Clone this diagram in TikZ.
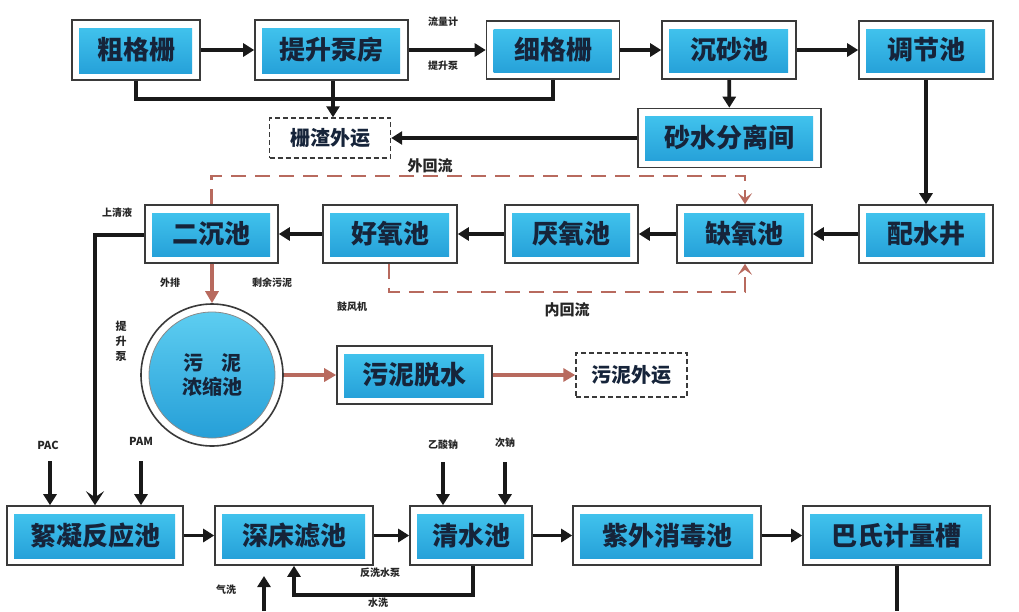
\documentclass[tikz,border=0pt]{standalone}
\usepackage{fontspec}
\setmainfont{Noto Sans CJK SC}
\usetikzlibrary{arrows.meta}
\definecolor{boxtop}{HTML}{45C8F0}
\definecolor{boxbot}{HTML}{229CD6}
\definecolor{txt}{HTML}{16243A}
\definecolor{redline}{HTML}{B86A5E}
\definecolor{frame}{HTML}{3A3A3A}
\tikzset{
  proc/.style={draw=frame, line width=1.6pt, fill=white, minimum height=58pt, inner sep=0pt,
    font=\fontsize{26}{28}\selectfont\bfseries, text=txt,
    path picture={\shade[top color=boxtop,bottom color=boxbot]
      ([shift={(7pt,-8pt)}]path picture bounding box.north west) rectangle
      ([shift={(-8pt,7pt)}]path picture bounding box.south east);}},
  outbox/.style={draw=frame, line width=1.4pt, dash pattern=on 5pt off 3pt, fill=white, inner sep=0pt,
    font=\fontsize{20}{22}\selectfont\bfseries, text=txt},
  tank/.style={circle, draw=frame, line width=1.6pt, fill=white, minimum size=142pt, inner sep=0pt,
    align=center, font=\fontsize{20}{24}\selectfont\bfseries, text=txt,
    path picture={\shade[top color=boxtop!85!white, bottom color=boxbot, draw=frame!60, line width=0.8pt]
      (path picture bounding box.center) circle (63pt);}},
  lbl/.style={font=\fontsize{10}{11}\selectfont\bfseries, text=black!85, inner sep=0pt},
  biglbl/.style={font=\fontsize{15}{16}\selectfont\bfseries, text=black!85, inner sep=0pt},
  flow/.style={line width=3.8pt, draw=black!90, -{Triangle[length=11pt,width=13pt]}},
  plain/.style={line width=3.8pt, draw=black!90},
  rflow/.style={line width=3.4pt, draw=redline, -{Triangle[length=12pt,width=13pt]}},
  rdash/.style={line width=2.8pt, draw=redline, dash pattern=on 15pt off 9pt,
    -{Stealth[length=11pt,width=14pt,inset=5pt]}},
  bigv/.style={line width=3.8pt, draw=black!90, -{Stealth[length=14pt,width=18pt,inset=6pt]}}
}
\begin{document}
\begin{tikzpicture}[x=1pt,y=-1pt]
\useasboundingbox[fill=white] (0,0) rectangle (1019,611);
% top row
\node[proc, minimum width=128pt, minimum height=60pt] (cg) at (136,50) {粗格栅};
\node[proc, minimum width=153pt, minimum height=60pt] (ts) at (331.5,50) {提升泵房};
\node[proc, minimum width=133pt] (xg) at (553,50) {细格栅};
\node[proc, minimum width=134pt] (cs) at (729,50) {沉砂池};
\node[proc, minimum width=134pt] (tj) at (926,50) {调节池};
\node[proc, minimum width=183pt, minimum height=59pt] (ss) at (729.5,138) {砂水分离间};
\node[outbox, minimum width=121pt, minimum height=40pt] (zz) at (330,138) {栅渣外运};
% middle row
\node[proc, minimum width=133pt] (ec) at (211.5,234) {二沉池};
\node[proc, minimum width=134pt] (hy) at (390,234) {好氧池};
\node[proc, minimum width=133pt] (ya) at (571.5,234) {厌氧池};
\node[proc, minimum width=135pt] (qy) at (744.5,234) {缺氧池};
\node[proc, minimum width=134pt] (ps) at (926,234) {配水井};
% sludge line
\node[tank] (nw) at (212,375) {污\hspace{0.9em}泥\\浓缩池};
\node[proc, minimum width=155pt] (wt) at (414.5,375) {污泥脱水};
\node[outbox, minimum width=111pt, minimum height=44pt] (wy) at (631.5,375) {污泥外运};
% bottom row
\node[proc, minimum width=176pt, minimum height=59pt] (xn) at (95,535.5) {絮凝反应池};
\node[proc, minimum width=158pt, minimum height=59pt] (sc) at (294,535.5) {深床滤池};
\node[proc, minimum width=122pt, minimum height=59pt] (qs) at (471,535.5) {清水池};
\node[proc, minimum width=188pt, minimum height=59pt] (zw) at (667,535.5) {紫外消毒池};
\node[proc, minimum width=187pt, minimum height=59pt] (bs) at (896.5,535.5) {巴氏计量槽};

% labels
\node[lbl] (l1) at (443,22) {流量计};
\node[lbl] (l2) at (443,66) {提升泵};
\node[biglbl] (l3) at (430,166) {外回流};
\node[biglbl] (l4) at (567,310) {内回流};
\node[lbl] (l5) at (117,213) {上清液};
\node[lbl] (l6) at (170,283) {外排};
\node[lbl] (l7) at (272,283) {剩余污泥};
\node[lbl] (l8) at (352,307) {鼓风机};
\node[lbl, align=center, font=\fontsize{11}{15}\selectfont\bfseries] (l9) at (121,341) {提\\升\\泵};
\node[lbl, font=\fontsize{11}{12}\selectfont\bfseries] (l10) at (48,445) {PAC};
\node[lbl, font=\fontsize{11}{12}\selectfont\bfseries] (l11) at (141,441) {PAM};
\node[lbl] (l12) at (443,445) {乙酸钠};
\node[lbl] (l13) at (505,443) {次钠};
\node[lbl] (l14) at (380,573) {反洗水泵};
\node[lbl] (l15) at (378,603) {水洗};
\node[lbl] (l16) at (226,590) {气洗};

% coordinates
\coordinate (j1) at (333,99);
\coordinate (pac) at (50,461);
\coordinate (pam) at (141,461);
\coordinate (yas) at (443,462);
\coordinate (cin) at (505,462);
\coordinate (up1) at (211.5,176);
\coordinate (up2) at (745,176);
\coordinate (dn1) at (389,292);
\coordinate (dn2) at (745,292);
\coordinate (sq) at (95,235);
\coordinate (fx) at (473,595);
\coordinate (qx) at (264,611);
\coordinate (qxe) at (264,576);
\coordinate (bse) at (897,611);

% top connectors
\draw[flow] (cg) -- (ts);
\draw[flow] (ts) -- (xg);
\draw[flow] (xg) -- (cs);
\draw[flow] (cs) -- (tj);
\draw[plain] (cg.south) |- (j1) -| (xg.south);
\draw[flow] (ts.south -| j1) -- (zz.north -| j1);
\draw[flow] (cs) -- (ss);
\draw[flow] (ss) -- (zz);
\draw[flow] (tj) -- (ps);
% middle
\draw[flow] (ps) -- (qy);
\draw[flow] (qy) -- (ya);
\draw[flow] (ya) -- (hy);
\draw[flow] (hy) -- (ec);
\draw[rdash] (ec.north) -- (up1) -- (up2) -- (up2 |- qy.north);
\draw[rdash] (hy.south -| dn1) -- (dn1) -- (dn2) -- (dn2 |- qy.south);
\draw[rflow] (ec.south -| nw) -- (nw.north);
\draw[rflow] (nw.east) -- (wt.west);
\draw[rflow] (wt) -- (wy);
% supernatant
\draw[bigv] (ec.west |- sq) -- (sq) -- (sq |- xn.north);
\draw[flow] (pac) -- (pac |- xn.north);
\draw[flow] (pam) -- (pam |- xn.north);
% bottom
\draw[flow] (xn) -- (sc);
\draw[flow] (sc) -- (qs);
\draw[flow] (qs) -- (zw);
\draw[flow] (zw) -- (bs);
\draw[flow] (yas) -- (yas |- qs.north);
\draw[flow] (cin) -- (cin |- qs.north);
\draw[flow] (qs.south -| fx) -- (fx) -| (sc.south);
\draw[flow] (qx) -- (qxe);
\draw[plain] (bs.south -| bse) -- (bse);
\end{tikzpicture}
\end{document}
